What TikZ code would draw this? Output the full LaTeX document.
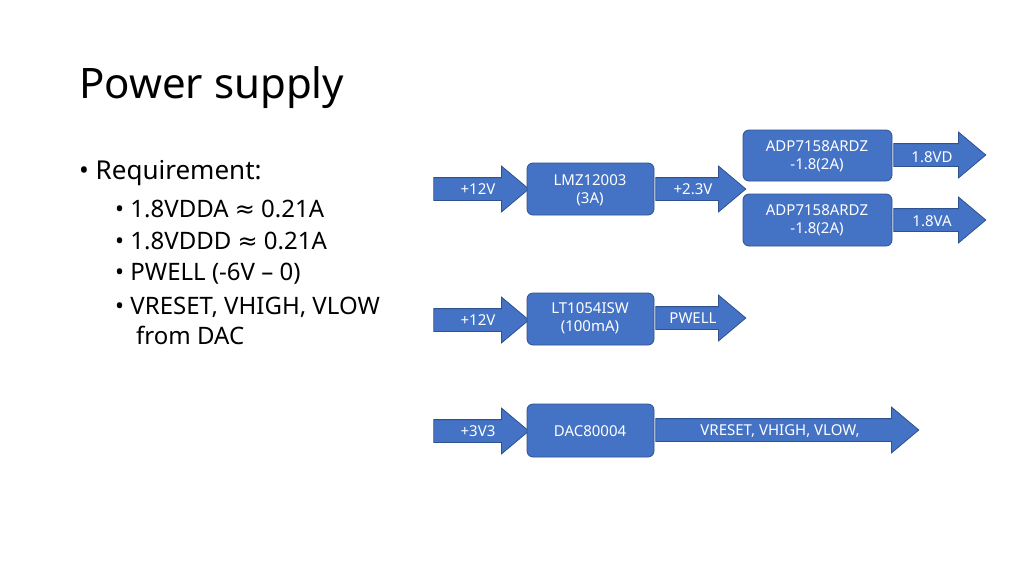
\documentclass[tikz,border=0pt]{standalone}
\usepackage{fontspec}
\setmainfont{Noto Sans}
\newfontfamily\symfont{DejaVu Sans}
\usetikzlibrary{shapes.arrows}
\definecolor{bfill}{HTML}{4472C4}
\definecolor{bdraw}{HTML}{2F528F}
\begin{document}
\begin{tikzpicture}[x=1pt,y=-1pt,
  arr/.style={single arrow,fill=bfill,draw=bdraw,line width=0.8pt,inner xsep=0pt,inner ysep=11pt,
     minimum width=45pt,single arrow head extend=11.5pt,single arrow tip angle=80,anchor=center},
  box/.style={rounded corners=6pt,fill=bfill,draw=bdraw,line width=0.8pt,minimum width=#1,minimum height=52pt},
  lbl/.style={text=white,font=\fontsize{15}{18}\selectfont,align=center,inner sep=0pt},
  body/.style={font=\fontsize{24}{30}\selectfont,anchor=west,inner sep=0pt}]
\useasboundingbox (0,0) rectangle (1024,576);
\node[anchor=west,inner sep=0pt,font=\fontsize{42}{50}\selectfont] (title) at (79,88) {Power supply};
\node[body,font=\fontsize{26}{30}\selectfont] (r0) at (79,173) {• Requirement:};
\node[body] (r1) at (115,209) {• 1.8VDDA {\symfont ≈} 0.21A};
\node[body] (r2) at (115,241) {• 1.8VDDD {\symfont ≈} 0.21A};
\node[body] (r3) at (115,274) {• PWELL (-6V – 0)};
\node[body] (r4) at (115,307) {• VRESET, VHIGH, VLOW};
\node[body] (r5) at (136,335) {from DAC};
% arrows
\node[arr,minimum height=95pt] (a1) at (474.5,189) {};
\node[arr,minimum height=90pt] (a2) at (694,189) {};
\node[arr,minimum height=92pt] (a3) at (933,155) {};
\node[arr,minimum height=92pt] (a4) at (933,220) {};
\node[arr,minimum height=95pt] (a5) at (474.5,320) {};
\node[arr,minimum height=90pt] (a6) at (694,318) {};
\node[arr,minimum height=95pt] (a7) at (474.5,431) {};
\node[arr,minimum height=263pt] (a8) at (780.5,430) {};
% boxes
\node[box=127pt] (b1) at (590.5,189) {};
\node[box=149pt,minimum height=51pt] (b2) at (817.5,155.5) {};
\node[box=149pt] (b3) at (817.5,220) {};
\node[box=127pt] (b4) at (590.5,319) {};
\node[box=127pt,minimum height=53pt] (b5) at (590.5,430.5) {};
% labels
\node[lbl] (l1) at (478,189) {+12V};
\node[lbl] (l2) at (693,189) {+2.3V};
\node[lbl] (l3) at (932,157) {1.8VD};
\node[lbl] (l4) at (932,221) {1.8VA};
\node[lbl] (l5) at (478,320) {+12V};
\node[lbl] (l6) at (693,318) {PWELL};
\node[lbl] (l7) at (478,431) {+3V3};
\node[lbl] (l8) at (780,431) {VRESET, VHIGH, VLOW,};
\node[lbl] (t1) at (590,190) {LMZ12003\\(3A)};
\node[lbl] (t2) at (817,156) {ADP7158ARDZ\\-1.8(2A)};
\node[lbl] (t3) at (817,220) {ADP7158ARDZ\\-1.8(2A)};
\node[lbl] (t4) at (590,318) {LT1054ISW\\(100mA)};
\node[lbl] (t5) at (590,431) {DAC80004};
\end{tikzpicture}
\end{document}
